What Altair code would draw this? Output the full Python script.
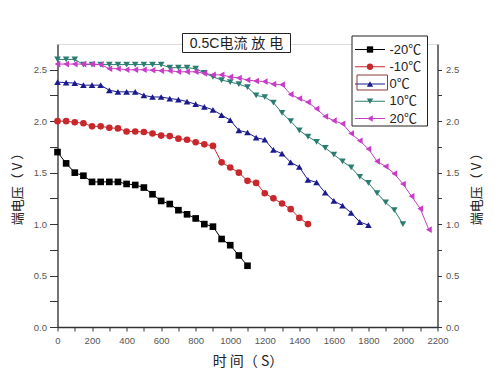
import altair as alt
import pandas as pd

# ---------------- data ----------------
series_names = ["-20℃", "-10℃", "0℃", "10℃", "20℃"]
series_colors = ["#000000", "#c8282c", "#1a1a8e", "#2a7d70", "#c83cc8"]
point_shapes = ["square", "circle", "triangle-up", "triangle-down", "triangle-left"]
time_step = 50  # seconds between recorded points

v_m20 = [1.70, 1.59, 1.50, 1.47, 1.41, 1.41, 1.41, 1.41, 1.39, 1.38, 1.355, 1.29,
         1.225, 1.195, 1.135, 1.095, 1.055, 1.00, 0.975, 0.855, 0.795, 0.695, 0.595]
v_m10 = [2.00, 2.00, 1.99, 1.98, 1.95, 1.95, 1.935, 1.93, 1.90, 1.90, 1.895, 1.88,
         1.86, 1.855, 1.83, 1.82, 1.795, 1.775, 1.76, 1.60, 1.55, 1.50, 1.42, 1.40,
         1.30, 1.25, 1.20, 1.145, 1.06, 1.00]
v_0 = [2.38, 2.375, 2.37, 2.35, 2.35, 2.35, 2.30, 2.285, 2.285, 2.285, 2.25, 2.235,
       2.235, 2.22, 2.21, 2.19, 2.165, 2.14, 2.11, 2.06, 2.01, 1.91, 1.89, 1.84,
       1.82, 1.72, 1.685, 1.60, 1.555, 1.43, 1.405, 1.305, 1.225, 1.18, 1.11, 1.02, 0.99]
v_10 = [2.60, 2.60, 2.60, 2.55, 2.55, 2.55, 2.55, 2.55, 2.55, 2.55, 2.55, 2.55,
        2.55, 2.52, 2.52, 2.52, 2.51, 2.47, 2.43, 2.40, 2.38, 2.36, 2.33, 2.25,
        2.235, 2.18, 2.08, 2.00, 1.91, 1.85, 1.80, 1.74, 1.675, 1.61, 1.55, 1.46,
        1.40, 1.30, 1.21, 1.135, 1.00]
v_20 = [2.555, 2.555, 2.555, 2.555, 2.555, 2.55, 2.51, 2.51, 2.50, 2.50, 2.50, 2.495,
        2.49, 2.49, 2.48, 2.48, 2.48, 2.465, 2.45, 2.45, 2.43, 2.42, 2.40, 2.39,
        2.385, 2.36, 2.355, 2.26, 2.22, 2.185, 2.12, 2.045, 2.005, 1.975, 1.88, 1.81,
        1.73, 1.61, 1.56, 1.49, 1.39, 1.27, 1.15, 0.946]

x_ticks = list(range(0, 2201, 100))
y_ticks = [0.0, 0.25, 0.5, 0.75, 1.0, 1.25, 1.5, 1.75, 2.0, 2.25, 2.5]
title_text = "0.5C电流  放  电"
x_title = "时 间（ S）"
y_title = "端电压（ V ）"

rows = []
for name, vals in zip(series_names, [v_m20, v_m10, v_0, v_10, v_20]):
    for i, v in enumerate(vals):
        rows.append({"t": i * time_step, "v": v, "series": name})
df = pd.DataFrame(rows)
legend_df = pd.DataFrame({"series": series_names, "row": list(range(len(series_names)))})

LAT = "Liberation Sans, Noto Sans CJK SC"
CJK = "Noto Sans CJK SC"
W, H = 380, 283

xscale = alt.Scale(domain=[0, 2200], nice=False)
yscale = alt.Scale(domain=[0, 2.75], nice=False, zero=False)
cscale = alt.Scale(domain=series_names, range=series_colors)
sscale = alt.Scale(domain=series_names, range=point_shapes)

x_axis = alt.Axis(values=x_ticks, format="d",
                  labelExpr="datum.value % 200 == 0 ? datum.label : ''",
                  title=x_title, titleFont=CJK, titleFontSize=14, titleFontWeight="normal",
                  titlePadding=10, titleColor="#222222",
                  labelFont=LAT, labelFontSize=9.5, labelColor="#555555",
                  labelPadding=4, tickSize=4, grid=False, domainColor="#333333",
                  tickColor="#333333", domainWidth=1.3, labelFlush=False)

y_axis_left = alt.Axis(values=y_ticks, format=".1f",
                       labelExpr="datum.value % 0.5 == 0 ? datum.label : ''",
                       title=y_title, titleFont=CJK, titleFontSize=13, titleFontWeight="normal",
                       titlePadding=9, titleColor="#222222",
                       labelFont=LAT, labelFontSize=9.5, labelColor="#555555",
                       labelPadding=3, tickSize=8, grid=False, domainColor="#333333",
                       tickColor="#333333", domainWidth=1.3, labelFlush=False)

y_axis_right = alt.Axis(orient="right", values=y_ticks, format=".1f",
                        labelExpr="datum.value % 0.5 == 0 ? datum.label : ''",
                        title=y_title, titleFont=CJK, titleFontSize=13, titleFontWeight="normal",
                        titleAngle=270, titlePadding=25, titleColor="#222222",
                        labelFont=LAT, labelFontSize=9.5,
                        labelColor="#555555", labelPadding=4, tickSize=4, grid=False,
                        domainColor="#333333", tickColor="#333333", domainWidth=1.3,
                        labelFlush=False)

base = alt.Chart(df)

lines = base.mark_line(strokeWidth=1).encode(
    x=alt.X("t:Q", scale=xscale, axis=x_axis, title=x_title),
    y=alt.Y("v:Q", scale=yscale, axis=y_axis_left),
    color=alt.Color("series:N", scale=cscale, legend=None),
    detail="series:N",
)

points = base.mark_point(filled=True, opacity=1).encode(
    x=alt.X("t:Q", scale=xscale, axis=x_axis, title=x_title),
    y=alt.Y("v:Q", scale=yscale, axis=y_axis_right),
    color=alt.Color("series:N", scale=cscale, legend=None),
    shape=alt.Shape("series:N", scale=sscale, legend=None),
    size=alt.value(44),
)

# ---------- legend box (drawn as marks, placed in pixels) ----------
one = pd.DataFrame({"a": [0]})
leg_y = alt.Y("row:Q", scale=alt.Scale(domain=[0, 4], range=[5.5, 74.5]), axis=None)
leg_box = alt.Chart(one).mark_rect(fill="white", stroke="#222222", strokeWidth=1).encode(
    x=alt.value(294.5), x2=alt.value(370), y=alt.value(-8), y2=alt.value(82))
leg_lines = alt.Chart(legend_df).mark_rule(strokeWidth=1).encode(
    x=alt.value(297.5), x2=alt.value(327.5), y=leg_y,
    color=alt.Color("series:N", scale=cscale, legend=None))
leg_pts = alt.Chart(legend_df).mark_point(filled=True, opacity=1).encode(
    x=alt.value(312.5), y=leg_y,
    color=alt.Color("series:N", scale=cscale, legend=None),
    shape=alt.Shape("series:N", scale=sscale, legend=None),
    size=alt.value(40))
leg_txt = alt.Chart(legend_df).mark_text(align="left", baseline="middle", font=LAT,
                                         fontSize=13, color="#222222").encode(
    x=alt.value(332), y=leg_y, text="series:N")
sel_box = alt.Chart(one).mark_rect(fill="transparent", stroke="#8a3a3a", strokeWidth=1).encode(
    x=alt.value(299.5), x2=alt.value(330), y=alt.value(31), y2=alt.value(46))

# ---------- boxed title ----------
title_box = alt.Chart(one).mark_rect(fill="white", stroke="#222222", strokeWidth=1).encode(
    x=alt.value(125), x2=alt.value(233), y=alt.value(-10.5), y2=alt.value(8.5))
title_txt = alt.Chart(one).mark_text(text=title_text, font=LAT, fontSize=14, color="#222222",
                                     baseline="middle", align="center").encode(
    x=alt.value(179), y=alt.value(-0.5))

chart = alt.layer(lines, points, leg_box, leg_lines, leg_pts, leg_txt, sel_box,
                  title_box, title_txt).resolve_scale(
    y="independent"
).properties(
    width=W, height=H, autosize="none",
    padding={"left": 49.5, "top": 36, "right": 54, "bottom": 46},
).configure_view(stroke=None).configure(background="white")

chart.save("out.html", embed_options={"renderer": "svg", "actions": False})
